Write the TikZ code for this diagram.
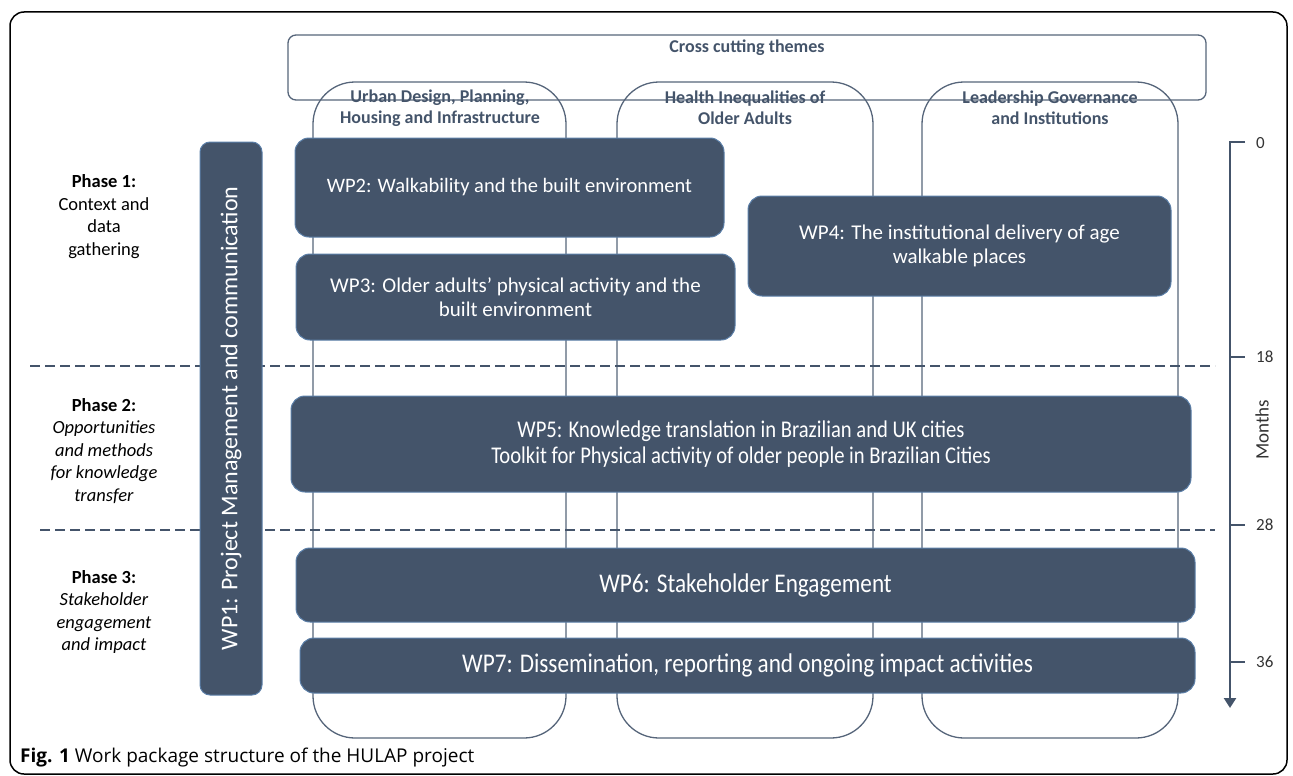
\documentclass[tikz,border=0pt]{standalone}
\usepackage{fontspec}
\setmainfont{Carlito}
\newfontfamily\capfont{Open Sans}
\newfontfamily\narrowfont[FakeStretch=0.86]{Carlito}
\usetikzlibrary{arrows.meta}

\definecolor{wpblue}{HTML}{44546A}
\definecolor{wpedge}{HTML}{5B7FA8}
\definecolor{themeline}{HTML}{56657A}

\tikzset{
  wpbox/.style={draw=wpedge, line width=1pt, fill=wpblue, rounded corners=14, text=white, align=center, inner sep=0pt},
  themebox/.style={draw=themeline, line width=1.3pt, rounded corners=42, inner sep=0pt},
  themetitle/.style={text=wpblue, align=center, font=\bfseries\fontsize{18}{21}\selectfont},
  phaselabel/.style={align=center, font=\fontsize{18.5}{22.5}\selectfont},
  cutline/.style={draw=wpblue, line width=2.5pt, dash pattern=on 10pt off 5pt},
  monthline/.style={draw=wpblue, line width=2.5pt},
  monthlabel/.style={anchor=west, inner sep=0pt, text=black!80, font=\fontsize{17}{19}\selectfont}
}

\begin{document}
\begin{tikzpicture}[x=1pt,y=-1pt]
  \useasboundingbox (0,0) rectangle (1293,776);
  % outer frame
  \draw [line width=1.5pt, rounded corners=14] (10,12) rectangle (1287,774);

  % cross cutting themes
  \node [draw=themeline, line width=1.3pt, rounded corners=8, minimum width=918, minimum height=65] (cross) at (747,67.5) {};
  \node [themetitle] (crosstitle) at (747,48) {Cross cutting themes};

  % theme columns
  \node [themebox, minimum width=253, minimum height=656] (urban) at (439.5,410) {};
  \node [themebox, minimum width=256, minimum height=656] (health) at (745,410) {};
  \node [themebox, minimum width=256, minimum height=656] (leader) at (1050,410) {};
  \node [themetitle] (urbantitle) at (440,108) {Urban Design, Planning,\\Housing and Infrastructure};
  \node [themetitle] (healthtitle) at (745,108) {Health Inequalities of\\Older Adults};
  \node [themetitle] (leadertitle) at (1050,108) {Leadership Governance\\and Institutions};

  % phase boundaries
  \coordinate (cut1a) at (30,366);
  \coordinate (cut1b) at (1215,366);
  \coordinate (cut2a) at (40,530);
  \coordinate (cut2b) at (1215,530);
  \draw [cutline] (cut1a) -- (cut1b);
  \draw [cutline] (cut2a) -- (cut2b);

  % phase labels
  \node [phaselabel] (phase1) at (104,216.5) {\textbf{Phase 1:}\\Context and\\data\\gathering};
  \node [phaselabel] (phase2) at (104,451) {\textbf{Phase 2:}\\\textit{Opportunities}\\\textit{and methods}\\\textit{for knowledge}\\\textit{transfer}};
  \node [phaselabel] (phase3) at (104,612) {\textbf{Phase 3:}\\\textit{Stakeholder}\\\textit{engagement}\\\textit{and impact}};

  % work packages
  \node [wpbox, rounded corners=10, rotate=90, minimum width=553, minimum height=62, font=\fontsize{24}{27}\selectfont] (wp1) at (231,418.5) {WP1: Project Management and communication};
  \node [wpbox, minimum width=429, minimum height=99, font=\fontsize{20.5}{24}\selectfont] (wp2) at (509.5,187.5) {WP2: Walkability and the built environment};
  \node [wpbox, minimum width=439, minimum height=86, font=\fontsize{21}{24}\selectfont] (wp3) at (515.5,297) {WP3: Older adults’ physical activity and the\\built environment};
  \node [wpbox, minimum width=423, minimum height=100, font=\fontsize{21}{24}\selectfont] (wp4) at (959.5,246) {WP4: The institutional delivery of age\\walkable places};
  \node [wpbox, minimum width=900, minimum height=96, font=\narrowfont\fontsize{24}{26}\selectfont] (wp5) at (741,444) {WP5: Knowledge translation in Brazilian and UK cities\\Toolkit for Physical activity of older people in Brazilian Cities};
  \node [wpbox, minimum width=899, minimum height=74, font=\narrowfont\fontsize{27}{30}\selectfont] (wp6) at (745.5,585) {WP6: Stakeholder Engagement};
  \node [wpbox, minimum width=895, minimum height=55, font=\narrowfont\fontsize{27}{30}\selectfont] (wp7) at (747.5,665.5) {WP7: Dissemination, reporting and ongoing impact activities};

  % months axis
  \coordinate (m0) at (1230,142);
  \coordinate (mend) at (1230,708);
  \draw [monthline, -{Triangle[width=12pt,length=10pt]}] (1245,142) -- (m0) -- (mend);
  \node [monthlabel] (lab0) at (1256,143) {0};
  \foreach \m/\y in {18/357, 28/525, 36/662} {
    \draw [monthline] (1230,\y) -- ++(15,0);
    \node [monthlabel] (lab\m) at (1256,\y) {\m};
  }
  \node [rotate=90, text=black!80, font=\fontsize{19}{21}\selectfont] (months) at (1262,430) {Months};

  % caption
  \node [anchor=west, inner sep=0pt, font=\capfont\fontsize{19}{21}\selectfont] (caption) at (20,758) {\textbf{Fig. 1} Work package structure of the HULAP project};
\end{tikzpicture}
\end{document}
